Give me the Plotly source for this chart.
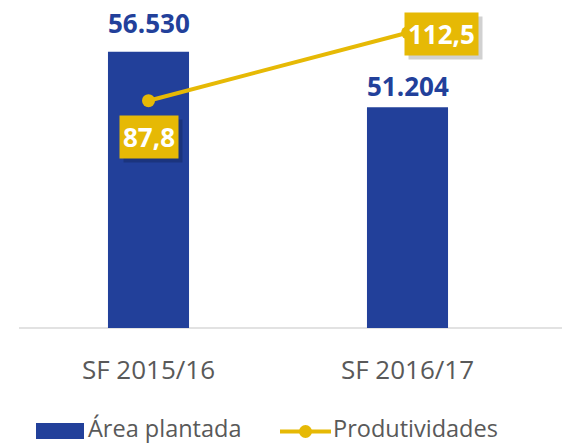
# %%
import plotly.graph_objects as go

# %%
# Dados do gráfico
categorias = ["SF 2015/16", "SF 2016/17"]
area_plantada = [56530, 51204]
produtividades = [87.8, 112.5]

AZUL = "#22409A"
AMARELO = "#E6B905"
CINZA = "#595959"
FONTE = "Open Sans"

W, H = 562, 444
ML, MR, MT, MB = 19, 25, 0, 116
PW, PH = W - ML - MR, H - MT - MB

# %%
def fmt_milhar(v):
    return f"{v:,}".replace(",", ".")

def fmt_decimal(v):
    return f"{v:.1f}".replace(".", ",")

# pixel -> coordenadas paper (para a legenda desenhada à mão)
def px(x):
    return (x - ML) / PW

def py(y):
    return (H - MB - y) / PH

fig = go.Figure()
fig.add_trace(go.Bar(x=categorias, y=area_plantada, name="Área plantada",
                     marker_color=AZUL, width=0.313, hoverinfo="skip"))
fig.add_trace(go.Scatter(x=categorias, y=produtividades, name="Produtividades",
                         mode="lines+markers", yaxis="y2",
                         line=dict(color=AMARELO, width=4),
                         marker=dict(color=AMARELO, size=13), hoverinfo="skip"))

# rótulos das barras
desloc_barras = [29, 21]
for cat, v, d in zip(categorias, area_plantada, desloc_barras):
    fig.add_annotation(x=cat, y=v, yref="y", text=f"<b>{fmt_milhar(v)}</b>",
                       showarrow=False, yanchor="middle", yshift=d,
                       font=dict(family=FONTE, size=26, color=AZUL))

# rótulos da linha (caixas amarelas com sombra)
desloc_linha = [(0, -36), (34, -1)]
for cat, v, (dx, dy) in zip(categorias, produtividades, desloc_linha):
    fig.add_annotation(x=cat, y=v, yref="y2", text=f"<b>{fmt_decimal(v)}</b>",
                       showarrow=False, xshift=dx + 4, yshift=dy - 4,
                       bgcolor="rgba(0,0,0,0.18)", borderpad=3,
                       font=dict(family=FONTE, size=26, color="rgba(0,0,0,0)"))
    fig.add_annotation(x=cat, y=v, yref="y2", text=f"<b>{fmt_decimal(v)}</b>",
                       showarrow=False, xshift=dx, yshift=dy,
                       bgcolor=AMARELO, borderpad=3,
                       font=dict(family=FONTE, size=26, color="white"))

# linha de base
fig.add_shape(type="line", xref="paper", yref="paper", x0=0, x1=px(W), y0=0, y1=0,
              line=dict(color="#D9D9D9", width=1.5), layer="below")

# legenda
fig.add_shape(type="rect", xref="paper", yref="paper", x0=px(36), x1=px(84),
              y0=py(439), y1=py(423), fillcolor=AZUL, line_width=0)
fig.add_shape(type="line", xref="paper", yref="paper", x0=px(280), x1=px(331),
              y0=py(431.5), y1=py(431.5), line=dict(color=AMARELO, width=4))
fig.add_shape(type="circle", xref="paper", yref="paper", xsizemode="pixel",
              ysizemode="pixel", xanchor=px(305.5), yanchor=py(431.5),
              x0=-6.5, x1=6.5, y0=-6.5, y1=6.5, fillcolor=AMARELO, line_width=0)
for x0, nome in [(87, "Área plantada"), (332, "Produtividades")]:
    fig.add_annotation(xref="paper", yref="paper", x=px(x0), y=py(428),
                       xanchor="left", yanchor="middle", text=nome, showarrow=False,
                       borderpad=0, font=dict(family=FONTE, size=23.5, color=CINZA))

fig.update_xaxes(range=[-0.5, 1.5], showgrid=False, showline=False, zeroline=False,
                 tickfont=dict(family=FONTE, size=26, color=CINZA),
                 ticklabelstandoff=24)
fig.update_layout(
    width=W, height=H, template=None,
    paper_bgcolor="white", plot_bgcolor="white",
    margin=dict(l=ML, r=MR, t=MT, b=MB, autoexpand=False),
    font=dict(family=FONTE, color=CINZA),
    showlegend=False,
    yaxis=dict(range=[30000, 61490], visible=False, showgrid=False),
    yaxis2=dict(range=[5.2, 124.4], overlaying="y", side="right",
                visible=False, showgrid=False),
)

fig.write_html("out.html", config={"displayModeBar": False},
               post_script="document.body.style.margin='0';")
